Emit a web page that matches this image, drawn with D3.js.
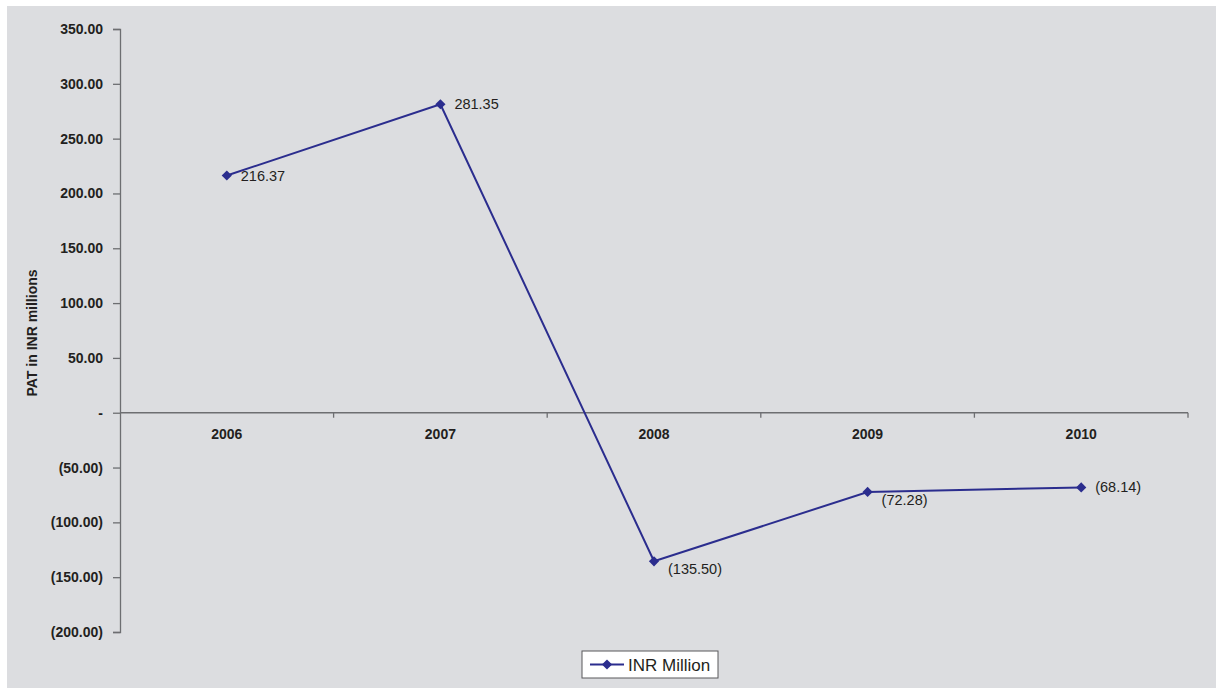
<!DOCTYPE html>
<html>
<head>
<meta charset="utf-8">
<script src="https://cdn.jsdelivr.net/npm/d3@7"></script>
<style>
  html, body { margin: 0; padding: 0; background: #ffffff; }
  svg { display: block; font-family: Arial, "Liberation Sans", sans-serif; }
</style>
</head>
<body>
<svg id="chart" width="1217" height="688"></svg>
<script>
// Profit after tax, INR millions
const years = ["2006", "2007", "2008", "2009", "2010"];
const patValues = [216.37, 281.35, -135.50, -72.28, -68.14];
const yTicks = [350, 300, 250, 200, 150, 100, 50, 0, -50, -100, -150, -200];
const seriesName = "INR Million";
const axisTitle = "PAT in INR millions";

const svg = d3.select("#chart");
const W = 1217, H = 688;
const lineColor = "#2b2d8e";
const axisColor = "#6d6e71";
const textColor = "#231f20";

// chart area background
svg.append("rect")
  .attr("x", 7).attr("y", 6)
  .attr("width", W - 8).attr("height", H - 6)
  .attr("fill", "#dcdde0");

const plot = { left: 120, right: 1188, top: 29, bottom: 632 };

const x = d3.scaleBand().domain(years).range([plot.left, plot.right]).padding(0);
const y = d3.scaleLinear().domain([-200, 350]).range([plot.bottom, plot.top]);

const fmt = v => {
  if (v === 0) return "-";
  const s = d3.format(",.2f")(Math.abs(v));
  return v < 0 ? "(" + s + ")" : s;
};

// y axis
const yAxis = svg.append("g")
  .attr("transform", `translate(${plot.left},0)`)
  .call(d3.axisLeft(y).tickValues(yTicks).tickSize(7).tickPadding(10).tickFormat(fmt));
yAxis.select(".domain").attr("stroke", axisColor).attr("stroke-width", 1.3);
yAxis.selectAll(".tick line").attr("stroke", axisColor).attr("stroke-width", 1.3);
yAxis.selectAll(".tick text")
  .attr("fill", textColor)
  .attr("font-size", 14)
  .attr("font-weight", "bold")
  .attr("font-family", "Arial, 'Liberation Sans', sans-serif");

// x axis at zero, with category boundaries marked downward
const y0 = y(0);
const xAxisG = svg.append("g");
xAxisG.append("line")
  .attr("x1", plot.left).attr("x2", plot.right)
  .attr("y1", y0).attr("y2", y0)
  .attr("stroke", axisColor).attr("stroke-width", 1.3);
const boundaries = years.slice(1).map(d => x(d)).concat([plot.right]);
xAxisG.selectAll("line.bound")
  .data(boundaries)
  .join("line")
  .attr("class", "bound")
  .attr("x1", d => d).attr("x2", d => d)
  .attr("y1", y0).attr("y2", y0 + 5)
  .attr("stroke", axisColor).attr("stroke-width", 1.3);
xAxisG.selectAll("text")
  .data(years)
  .join("text")
  .attr("x", d => x(d) + x.bandwidth() / 2)
  .attr("y", y0 + 26)
  .attr("text-anchor", "middle")
  .attr("font-size", 14)
  .attr("font-weight", "bold")
  .attr("fill", textColor)
  .text(d => d);

// y axis title
svg.append("text")
  .attr("transform", `translate(37,333) rotate(-90)`)
  .attr("text-anchor", "middle")
  .attr("font-size", 14)
  .attr("font-weight", "bold")
  .attr("fill", textColor)
  .text(axisTitle);

// series line
const pts = years.map((yr, i) => ({ yr, v: patValues[i], i }));
const cx = d => x(d.yr) + x.bandwidth() / 2;

svg.append("path")
  .datum(pts)
  .attr("fill", "none")
  .attr("stroke", lineColor)
  .attr("stroke-width", 2)
  .attr("d", d3.line().x(cx).y(d => y(d.v)));

const marker = d3.symbol().type(d3.symbolSquare).size(52);
svg.selectAll("path.marker")
  .data(pts)
  .join("path")
  .attr("class", "marker")
  .attr("d", marker)
  .attr("transform", d => `translate(${cx(d)},${y(d.v)}) rotate(45)`)
  .attr("fill", lineColor);

// value labels to the right; nudged lower where the line both arrives and leaves upward
svg.selectAll("text.val")
  .data(pts)
  .join("text")
  .attr("class", "val")
  .attr("x", d => cx(d) + 14)
  .attr("y", d => {
    const prev = pts[d.i - 1];
    const next = pts[d.i + 1];
    const nudge = prev && next && next.v > d.v;
    return y(d.v) + 5 + (nudge ? 8 : 0);
  })
  .attr("font-size", 14.5)
  .attr("fill", textColor)
  .text(d => fmt(d.v));

// legend
const lg = svg.append("g").attr("transform", "translate(582,651)");
lg.append("rect")
  .attr("width", 136).attr("height", 27)
  .attr("fill", "#ffffff")
  .attr("stroke", "#58595b").attr("stroke-width", 1);
lg.append("line")
  .attr("x1", 8).attr("x2", 42).attr("y1", 13.5).attr("y2", 13.5)
  .attr("stroke", lineColor).attr("stroke-width", 2);
lg.append("path")
  .attr("d", marker)
  .attr("transform", "translate(25,13.5) rotate(45)")
  .attr("fill", lineColor);
lg.append("text")
  .attr("x", 46).attr("y", 19.5)
  .attr("font-size", 17)
  .attr("fill", textColor)
  .text(seriesName);
</script>
</body>
</html>
